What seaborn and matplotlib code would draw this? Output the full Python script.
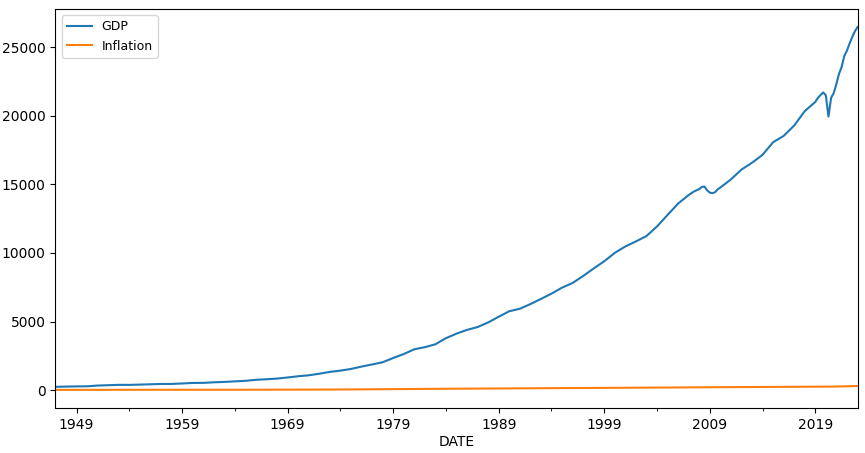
import matplotlib
matplotlib.use("Agg")
import matplotlib.pyplot as plt
import matplotlib.dates as mdates
from matplotlib.ticker import FixedLocator, FixedFormatter
import seaborn as sns
import pandas as pd

gdp_dates = [
    "1947-01-01", "1948-01-01", "1949-01-01", "1950-01-01", "1951-01-01", "1952-01-01",
    "1953-01-01", "1954-01-01", "1955-01-01", "1956-01-01", "1957-01-01", "1958-01-01",
    "1959-01-01", "1960-01-01", "1961-01-01", "1962-01-01", "1963-01-01", "1964-01-01",
    "1965-01-01", "1966-01-01", "1967-01-01", "1968-01-01", "1969-01-01", "1970-01-01",
    "1971-01-01", "1972-01-01", "1973-01-01", "1974-01-01", "1975-01-01", "1976-01-01",
    "1977-01-01", "1978-01-01", "1979-01-01", "1980-01-01", "1981-01-01", "1982-01-01",
    "1983-01-01", "1984-01-01", "1985-01-01", "1986-01-01", "1987-01-01", "1988-01-01",
    "1989-01-01", "1990-01-01", "1991-01-01", "1992-01-01", "1993-01-01", "1994-01-01",
    "1995-01-01", "1996-01-01", "1997-01-01", "1998-01-01", "1999-01-01", "2000-01-01",
    "2001-01-01", "2002-01-01", "2003-01-01", "2004-01-01", "2005-01-01", "2006-01-01",
    "2007-01-01", "2007-07-01", "2008-01-01", "2008-04-01", "2008-07-01", "2008-10-01",
    "2009-01-01", "2009-04-01", "2009-07-01", "2009-10-01", "2010-01-01", "2011-01-01",
    "2012-01-01", "2013-01-01", "2014-01-01", "2015-01-01", "2016-01-01", "2017-01-01",
    "2018-01-01", "2019-01-01", "2019-04-01", "2019-07-01", "2019-10-01", "2020-01-01",
    "2020-04-01", "2020-07-01", "2020-10-01", "2021-01-01", "2021-04-01", "2021-07-01",
    "2021-10-01", "2022-01-01", "2022-04-01", "2022-07-01", "2022-10-01", "2023-01-01",
]
gdp_values = [
    243, 260, 275, 281, 336, 360,
    387, 385, 405, 429, 451, 455,
    487, 527, 531, 573, 600, 641,
    681, 753, 796, 843, 925, 1014,
    1083, 1198, 1331, 1423, 1545, 1717,
    1873, 2034, 2343, 2630, 2979, 3132,
    3343, 3787, 4119, 4393, 4599, 4933,
    5350, 5751, 5931, 6271, 6646, 7033,
    7469, 7809, 8316, 8867, 9392, 10002,
    10471, 10835, 11230, 11924, 12767, 13599,
    14216, 14474, 14651, 14805, 14835, 14559,
    14394, 14352, 14420, 14629, 14764, 15351,
    16068, 16570, 17144, 18063, 18525, 19281,
    20328, 21001, 21290, 21505, 21694, 21481,
    19935, 21300, 21650, 22314, 23047, 23550,
    24349, 24740, 25248, 25724, 26138, 26450,
]

cpi_dates = [
    "1947-01-01", "1950-01-01", "1955-01-01", "1960-01-01", "1965-01-01", "1970-01-01",
    "1975-01-01", "1980-01-01", "1985-01-01", "1990-01-01", "1995-01-01", "2000-01-01",
    "2005-01-01", "2010-01-01", "2015-01-01", "2020-01-01", "2021-01-01", "2022-01-01",
    "2023-01-01",
]
cpi_values = [
    21.7, 23.6, 26.8, 29.4, 31.5, 38.0,
    52.8, 80.9, 106.3, 128.0, 151.4, 170.0,
    192.4, 217.4, 235.9, 258.6, 262.5, 284.3,
    301.5,
]

tick_years = [1949, 1959, 1969, 1979, 1989, 1999, 2009, 2019]
minor_years = [1954, 1964, 1974, 1984, 1994, 2004, 2014]

gdp = pd.DataFrame({"DATE": pd.to_datetime(gdp_dates), "value": gdp_values})
cpi = pd.DataFrame({"DATE": pd.to_datetime(cpi_dates), "value": cpi_values})

fig, ax = plt.subplots(figsize=(8.65, 4.53), dpi=100)
fig.subplots_adjust(left=55.5/865, right=857.5/865, top=1-9/453, bottom=1-408/453)

sns.lineplot(data=gdp, x="DATE", y="value", ax=ax, color="#1f77b4", label="GDP")
sns.lineplot(data=cpi, x="DATE", y="value", ax=ax, color="#ff7f0e", label="Inflation")

ax.set_xlim(mdates.date2num(pd.Timestamp(gdp_dates[0])), mdates.date2num(pd.Timestamp(gdp_dates[-1])))
ax.xaxis.set_major_locator(FixedLocator([mdates.date2num(pd.Timestamp(f"{y}-01-01")) for y in tick_years]))
ax.xaxis.set_major_formatter(FixedFormatter([str(y) for y in tick_years]))
ax.xaxis.set_minor_locator(FixedLocator([mdates.date2num(pd.Timestamp(f"{y}-01-01")) for y in minor_years]))
ax.set_xlabel("DATE", labelpad=2)
ax.set_ylabel("")
ax.legend(loc="upper left", fontsize=9)

fig.savefig("out.png", dpi=100)
